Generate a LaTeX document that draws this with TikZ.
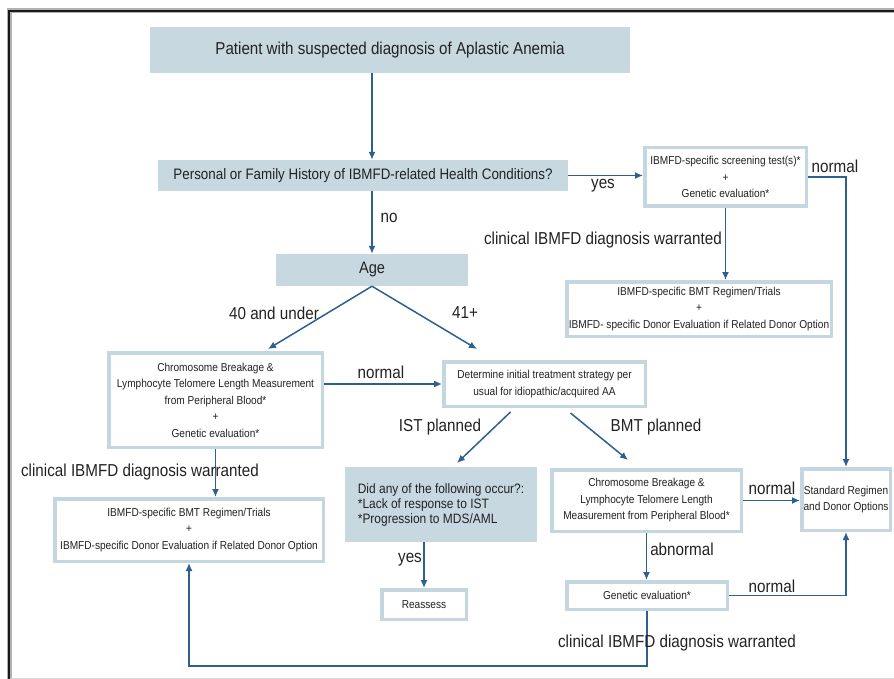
\documentclass[tikz,border=0pt]{standalone}
\usepackage{fontspec}
\setmainfont{Liberation Sans}[FakeStretch=0.88]
\usetikzlibrary{arrows.meta,calc}
\definecolor{boxfill}{HTML}{C7D8E1}
\definecolor{boxline}{HTML}{C4D6E0}
\definecolor{arrowc}{HTML}{2D5F8F}
\definecolor{txt}{HTML}{222222}
\newcommand{\fsmall}{\fontsize{11.5}{16.5}\selectfont}
\newcommand{\flbl}{\fontsize{17.3}{20}\selectfont}
\newcommand{\ftop}{\fontsize{17.2}{20}\selectfont}
\newcommand{\fq}{\fontsize{15.2}{18}\selectfont}
\newcommand{\fage}{\fontsize{16.6}{20}\selectfont}
\newcommand{\fdid}{\fontsize{13.6}{15}\selectfont}
\begin{document}
\begin{tikzpicture}[x=1pt,y=-1pt,
  fillbox/.style={fill=boxfill, draw=none, inner sep=0pt, align=center, text=txt},
  linebox/.style={draw=boxline, line width=3.5pt, fill=white, inner sep=0pt, align=center, text=txt, font=\fsmall},
  arr/.style={draw=arrowc, line width=1.5pt, -{Latex[length=8pt,width=7pt]}},
  lbl/.style={font=\flbl, inner sep=0pt, text=txt}]
\useasboundingbox (0,0) rectangle (894,679);
% frame
\draw[gray!60, line width=5pt] (9,679) -- (9,11) -- (894,11);
\draw[black!90, line width=2.6pt] (9,679) -- (9,11) -- (894,11);
\draw[gray!30, line width=1pt] (10,678) -- (894,678);

% boxes
\node[fillbox, minimum width=480pt, minimum height=46pt, font=\ftop] (top) at (390,50) {Patient with suspected diagnosis of Aplastic Anemia};
\node[fillbox, minimum width=410pt, minimum height=31pt, font=\fq] (q) at (363,175.5) {Personal or Family History of IBMFD-related Health Conditions?};
\node[linebox, minimum width=161.5pt, minimum height=58.5pt] (scr) at (725.5,177) {IBMFD-specific screening test(s)*\\+\\Genetic evaluation*};
\node[linebox, minimum width=264.5pt, minimum height=54.5pt] (ibr) at (699,309) {IBMFD-specific BMT Regimen/Trials\\+\\IBMFD- specific Donor Evaluation if Related Donor Option};
\node[fillbox, minimum width=192pt, minimum height=32pt, font=\fage] (age) at (372,270) {Age};
\node[linebox, minimum width=213.5pt, minimum height=94.5pt] (chl) at (215.5,400) {Chromosome Breakage \&\\Lymphocyte Telomere Length Measurement\\from Peripheral Blood*\\+\\Genetic evaluation*};
\node[linebox, minimum width=201.5pt, minimum height=44.5pt] (det) at (544.5,384) {Determine initial treatment strategy per\\usual for idiopathic/acquired AA};
\node[linebox, minimum width=268.5pt, minimum height=62.5pt] (ibl) at (189,530) {IBMFD-specific BMT Regimen/Trials\\+\\IBMFD-specific Donor Evaluation if Related Donor Option};
\node[fillbox, align=left, minimum width=192pt, minimum height=75pt, font=\fdid] (did) at (441,504.5) {Did any of the following occur?:\\\relax *Lack of response to IST\\\relax *Progression to MDS/AML};
\node[linebox, minimum width=84.5pt, minimum height=29.5pt] (rea) at (424,604.5) {Reassess};
\node[linebox, minimum width=189.5pt, minimum height=61.5pt] (chr) at (646.5,500.5) {Chromosome Breakage \&\\Lymphocyte Telomere Length\\Measurement from Peripheral Blood*};
\node[linebox, minimum width=88.5pt, minimum height=61.5pt] (std) at (846,499.5) {Standard Regimen\\and Donor Options};
\node[linebox, minimum width=160.5pt, minimum height=27.5pt] (gen) at (647,595.5) {Genetic evaluation*};

% free ends
\coordinate (a40) at (268,349);
\coordinate (a41) at (477,349);
\coordinate (istS) at ($(det.south)+(-34,4)$);
\coordinate (istE) at (457,463);
\coordinate (bmtS) at ($(det.south)+(26,5)$);
\coordinate (bmtE) at (628,460);
\coordinate (bot) at (0,666);

% connectors
\draw[arr] (top.south -| age.north) -- (q.north -| age.north);
\draw[arr] (q.east) -- (q.east -| scr.west);
\draw[arr] (scr.south) -- (scr.south |- ibr.north);
\draw[arr] (scr.east) -| (std.north);
\draw[arr] (q.south -| age.north) -- (age.north);
\draw[arr] (age.south) -- (a40);
\draw[arr] (age.south) -- (a41);
\draw[arr] (chl.east |- det.west) -- (det.west);
\draw[arr] (istS) -- (istE);
\draw[arr] (bmtS) -- (bmtE);
\draw[arr] (chl.south) -- (chl.south |- ibl.north);
\draw[arr] (rea.north |- did.south) -- (rea.north);
\draw[arr] (chr.east) -- (chr.east -| std.west);
\draw[arr] (chr.south) -- (chr.south |- gen.north);
\draw[arr] (gen.east) -| (std.south);
\draw[arr] (gen.south) -- (gen.south |- bot) -| (ibl.south);

% labels
\node[lbl] (lyes1) at (603,186) {yes};
\node[lbl] (lnorm1) at (835,166) {normal};
\node[lbl] (lclin1) at (603,240) {clinical IBMFD diagnosis warranted};
\node[lbl] (lno) at (389,218) {no};
\node[lbl] (l40) at (274,313) {40 and under};
\node[lbl] (l41) at (465,313) {41+};
\node[lbl] (lnorm2) at (381,372) {normal};
\node[lbl] (list) at (440,427) {IST planned};
\node[lbl] (lbmt) at (656,427) {BMT planned};
\node[lbl] (lclin2) at (140,472) {clinical IBMFD diagnosis warranted};
\node[lbl] (lyes2) at (410,560) {yes};
\node[lbl] (lnorm3) at (772,488) {normal};
\node[lbl] (labn) at (682,549) {abnormal};
\node[lbl] (lnorm4) at (772,586) {normal};
\node[lbl] (lclin3) at (677,643) {clinical IBMFD diagnosis warranted};
\end{tikzpicture}
\end{document}
